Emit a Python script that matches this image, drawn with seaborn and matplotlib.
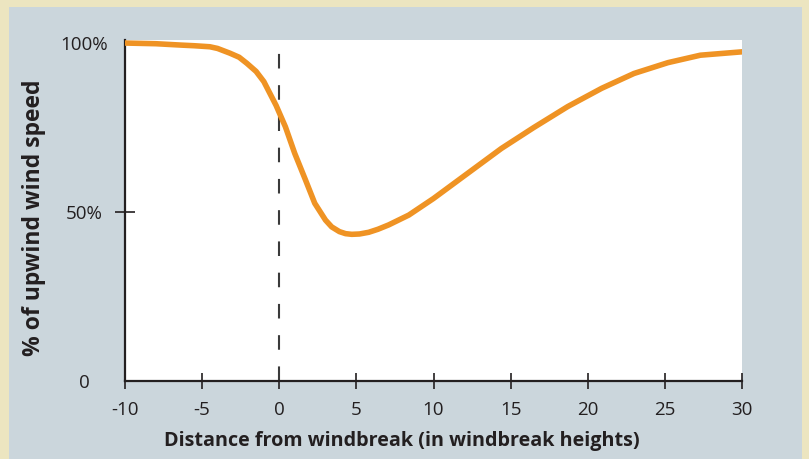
import numpy as np
import pandas as pd
import seaborn as sns
import matplotlib.pyplot as plt
from matplotlib.patches import Rectangle

# distance from windbreak (in windbreak heights) and wind speed (% of upwind)
distance = [-10, -8, -6.4, -5.5, -4.5, -4, -3.2, -2.6, -2.1, -1.5, -1, -0.2,
            0.4, 1.0, 1.7, 2.3, 3.0, 3.4, 3.9, 4.3, 4.7, 5.2, 5.8, 6.4, 7.1,
            8.4, 10.0, 12.2, 14.4, 16.5, 18.7, 20.9, 23.0, 25.2, 27.3, 30]
wind_pct = [100, 99.8, 99.4, 99.2, 98.9, 98.4, 97.0, 95.8, 94.0, 91.6, 88.6,
            81.5, 75.2, 67.4, 59.5, 52.6, 47.6, 45.6, 44.2, 43.6, 43.4, 43.5,
            44.0, 44.9, 46.2, 49.1, 54.0, 61.4, 68.8, 75.0, 81.2, 86.6, 91.0,
            94.2, 96.4, 97.4]

x_ticks = [-10, -5, 0, 5, 10, 15, 20, 25, 30]
y_ticks = [0, 50, 100]
y_tick_labels = ["0", "50%", "100%"]

df = pd.DataFrame({"distance": distance, "wind": wind_pct})

sns.set_style("white")
plt.rcParams["font.family"] = ["Open Sans", "DejaVu Sans"]

fig = plt.figure(figsize=(8.09, 4.59), dpi=100)
fig.patch.set_facecolor("#ece5c0")
# blue-grey panel behind the chart
fig.patches.append(Rectangle((9 / 809, 0), 793 / 809, 452 / 459,
                             transform=fig.transFigure, facecolor="#cbd6dc",
                             edgecolor="none", zorder=-10))

ax = fig.add_axes([125 / 809, 1 - 381 / 459, 617 / 809, 341 / 459])
ax.set_zorder(1)
ax.set_facecolor("white")

ax.axvline(0, color="#3a3a3a", lw=1.5, ls=(0, (7, 8)), zorder=1)
sns.lineplot(data=df, x="distance", y="wind", ax=ax, color="#ef9324", lw=4.0,
             zorder=3)

ax.set_xlim(-10, 30)
ax.set_ylim(0, 100.9)
ax.set_xticks(x_ticks)
ax.set_xticklabels([str(t) for t in x_ticks])
ax.set_yticks(y_ticks)
ax.set_yticklabels(y_tick_labels)

for side in ["top", "right"]:
    ax.spines[side].set_visible(False)
for side in ["left", "bottom"]:
    ax.spines[side].set_color("#231f20")
    ax.spines[side].set_linewidth(1.6)

ax.tick_params(bottom=True, left=True)
ax.tick_params(axis="x", direction="inout", length=12, width=1.2,
               color="#231f20", labelsize=13.5, labelcolor="#231f20", pad=8.5)
ax.tick_params(axis="y", direction="inout", length=15, width=1.2,
               color="#231f20", labelsize=13.5, labelcolor="#231f20", pad=22)
for lab in ax.get_yticklabels():
    lab.set_horizontalalignment("center")
ytl = ax.yaxis.get_major_ticks()
ytl[0].tick1line.set_visible(False)
ytl[2].tick1line.set_visible(False)

ax.set_xlabel("Distance from windbreak (in windbreak heights)",
              fontsize=14.2, fontweight="bold", color="#231f20")
ax.set_ylabel("% of upwind wind speed", fontsize=16.5, fontweight="bold",
              color="#231f20")
ax.xaxis.set_label_coords(0.449, -0.147)
ax.yaxis.set_label_coords(-0.128, 0.479)

fig.savefig("out.png", dpi=100, facecolor=fig.get_facecolor())
